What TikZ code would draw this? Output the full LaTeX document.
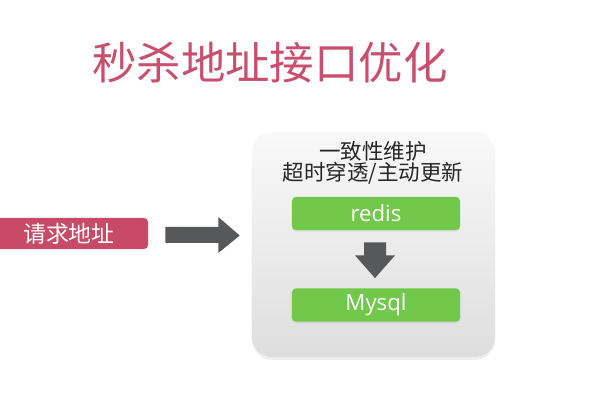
\documentclass[tikz,border=0pt]{standalone}
\usepackage{fontspec}
\newfontfamily\cjk{Noto Sans CJK SC}
\setsansfont{Open Sans}
\usetikzlibrary{calc,shadows}
\definecolor{titlepink}{HTML}{C8506E}
\definecolor{boxred}{HTML}{C94A67}
\definecolor{arrowgray}{HTML}{56585A}
\definecolor{boxgreen}{HTML}{72C84A}
\tikzset{
  titletext/.style={text=titlepink, font=\cjk\fontsize{31.6}{32}\selectfont, inner sep=0pt},
  redbox/.style={fill=boxred, rounded corners=0.1cm, text=white, font=\cjk\fontsize{16.3}{17}\selectfont, minimum width=3.95cm, minimum height=0.775cm, inner sep=0pt},
  panel/.style={rounded corners=0.5cm, top color=gray!5, bottom color=gray!26, minimum width=6.075cm, minimum height=5.625cm, inner sep=0pt, drop shadow={opacity=0.12, shadow xshift=0pt, shadow yshift=-2pt}},
  paneltext/.style={text=black!85, font=\cjk\fontsize{15.3}{15}\selectfont, align=center, inner sep=0pt},
  greenbox/.style={fill=boxgreen, rounded corners=0.1cm, text=white, font=\sffamily\fontsize{15.8}{16}\selectfont, minimum width=4.2cm, minimum height=0.83cm, inner sep=0pt, drop shadow={opacity=0.15, shadow xshift=0pt, shadow yshift=-1pt}},
  blockarrow/.style={fill=arrowgray}
}
\begin{document}
\begin{tikzpicture}[x=0.025cm,y=-0.025cm]
\useasboundingbox[fill=white] (0,0) rectangle (600,400);
\node[titletext] (title) at (270,63) {秒杀地址接口优化};
\node[redbox] (req) at (69,233.5) {请求地址};
\node[panel] (panel) at (373.5,244.5) {};
\node[paneltext] (desc) at (373,162.5) {一致性维护\\超时穿透/主动更新};
\node[greenbox] (redis) at (376,213.5) {redis};
\node[greenbox] (mysql) at (376,305) {Mysql};
% horizontal block arrow from request box to panel
\fill[blockarrow] ($(req.east)+(17,-6.5)$) -- ($(req.east)+(70,-6.5)$) -- ($(req.east)+(70,-16.5)$)
  -- ($(panel.west)+(-12,-9)$) -- ($(req.east)+(70,19.5)$) -- ($(req.east)+(70,9.5)$)
  -- ($(req.east)+(17,9.5)$) -- cycle;
% vertical block arrow from redis to mysql
\fill[blockarrow] ($(redis.south)+(-12,12)$) -- ($(redis.south)+(10,12)$) -- ($(redis.south)+(10,25)$)
  -- ($(redis.south)+(19,25)$) -- ($(mysql.north)+(-1,-10)$) -- ($(redis.south)+(-21,25)$)
  -- ($(redis.south)+(-12,25)$) -- cycle;
\end{tikzpicture}
\end{document}
